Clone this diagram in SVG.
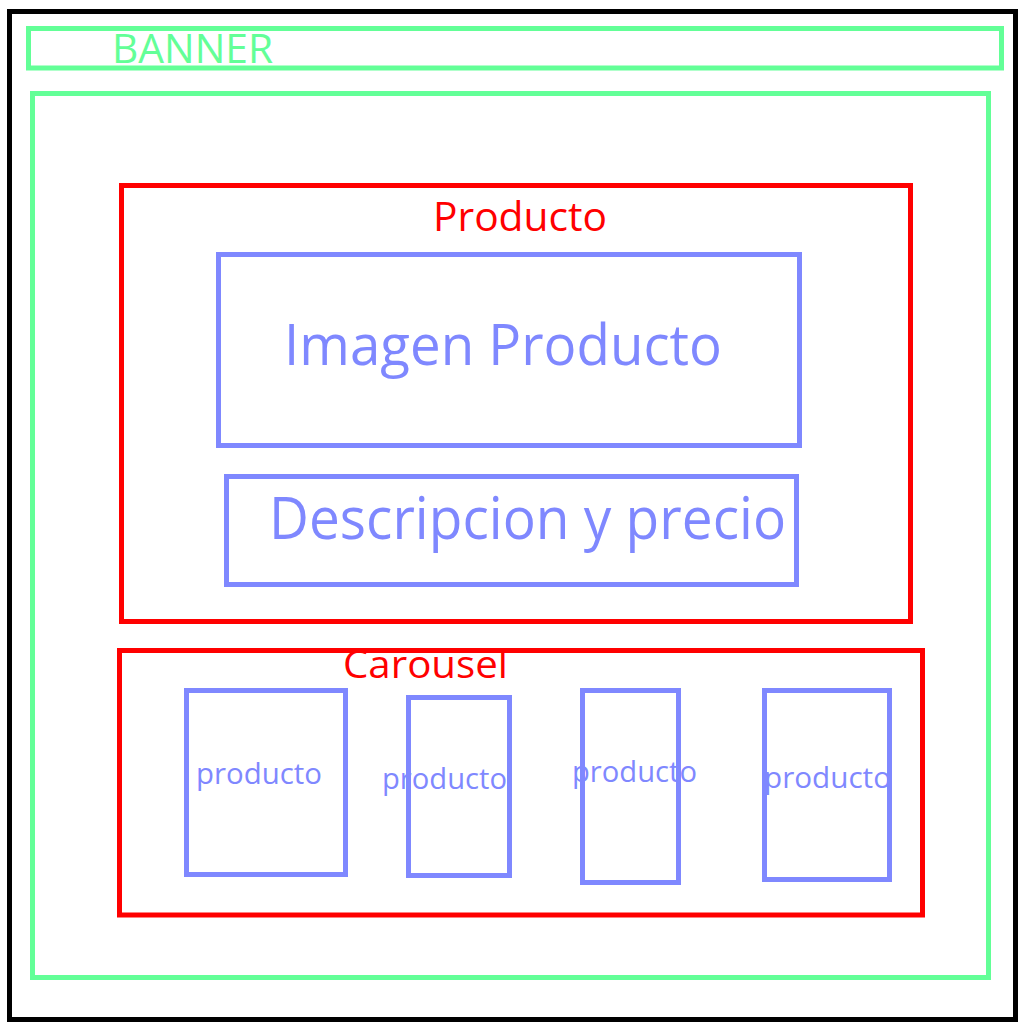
<svg xmlns="http://www.w3.org/2000/svg" width="1024" height="1024" viewBox="0 0 1024 1024">
<style>
rect{fill:none;stroke-width:5}
.k{stroke:#000}
.g{stroke:#63FF97}
.r{stroke:#FF0000}
.b{stroke:#7F88FF}
text{font-family:"Open Sans","Noto Sans","Liberation Sans",sans-serif;lengthAdjust:spacingAndGlyphs}
.tg{fill:#63FF97}
.tr{fill:#FF0000}
.tb{fill:#7F88FF}
</style>
<rect width="1024" height="1024" fill="#fff" stroke="none"/>
<g id="page"><rect class="k" x="9.5" y="11.5" width="1006" height="1008"/></g>
<g id="banner"><rect class="g" x="28.5" y="28.5" width="973" height="39.5"/>
<text class="tg" x="112" y="63" font-size="40" textLength="161" lengthAdjust="spacingAndGlyphs">BANNER</text></g>
<g id="main"><rect class="g" x="32.5" y="93.5" width="956" height="884"/></g>
<g id="producto"><rect class="r" x="121.5" y="185.5" width="789" height="436"/>
<text class="tr" x="433" y="231" font-size="41" textLength="174" lengthAdjust="spacingAndGlyphs">Producto</text></g>
<g id="imagen"><rect class="b" x="218.5" y="254.5" width="581" height="191"/>
<text class="tb" x="284" y="365" font-size="57" textLength="438" lengthAdjust="spacingAndGlyphs">Imagen Producto</text></g>
<g id="descripcion"><rect class="b" x="226.5" y="476.5" width="570" height="108"/>
<text class="tb" x="269" y="539" font-size="58" textLength="517" lengthAdjust="spacingAndGlyphs">Descripcion y precio</text></g>
<g id="carousel"><rect class="r" x="119.5" y="650.5" width="803" height="264.5"/>
<text class="tr" x="343" y="678" font-size="39" textLength="165" lengthAdjust="spacingAndGlyphs">Carousel</text></g>
<g id="item1"><rect class="b" x="186.5" y="690.5" width="159" height="184"/>
<text class="tb" x="196" y="784" font-size="29" textLength="126" lengthAdjust="spacingAndGlyphs">producto</text></g>
<g id="item2"><rect class="b" x="408.5" y="697.5" width="101" height="178"/>
<text class="tb" x="382" y="789" font-size="29" textLength="125" lengthAdjust="spacingAndGlyphs">producto</text></g>
<g id="item3"><rect class="b" x="582.5" y="690.5" width="96" height="192"/>
<text class="tb" x="572" y="782" font-size="29" textLength="125" lengthAdjust="spacingAndGlyphs">producto</text></g>
<g id="item4"><rect class="b" x="764.5" y="690.5" width="125" height="189"/>
<text class="tb" x="764" y="788" font-size="29" textLength="127" lengthAdjust="spacingAndGlyphs">producto</text></g>
<g id="connectors"></g>
</svg>
